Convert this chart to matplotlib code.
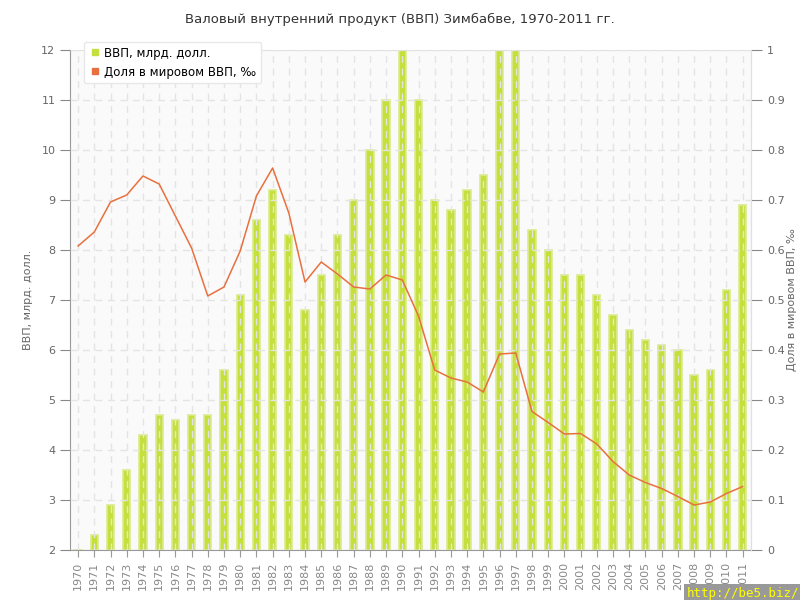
import matplotlib
matplotlib.use("Agg")
import matplotlib.pyplot as plt
from matplotlib.lines import Line2D
import numpy as np

years = [str(y) for y in range(1970, 2012)]
gdp = [1.9, 2.3, 2.9, 3.6, 4.3, 4.7, 4.6, 4.7, 4.7, 5.6,
       7.1, 8.6, 9.2, 8.3, 6.8, 7.5, 8.3, 9.0, 10.0, 11.0,
       12.4, 11.0, 9.0, 8.8, 9.2, 9.5, 12.4, 12.4, 8.4, 8.0,
       7.5, 7.5, 7.1, 6.7, 6.4, 6.2, 6.1, 6.0, 5.5, 5.6,
       7.2, 8.9]
share = [0.608, 0.636, 0.696, 0.710, 0.748, 0.732, 0.668, 0.604, 0.508, 0.526,
         0.598, 0.708, 0.764, 0.674, 0.536, 0.576, 0.552, 0.526, 0.522, 0.550,
         0.540, 0.468, 0.360, 0.344, 0.336, 0.316, 0.392, 0.394, 0.277, 0.255,
         0.232, 0.233, 0.212, 0.177, 0.150, 0.135, 0.123, 0.107, 0.090, 0.096,
         0.113, 0.127]

title = "Валовый внутренний продукт (ВВП) Зимбабве, 1970-2011 гг."
left_label = "ВВП, млрд. долл."
right_label = "Доля в мировом ВВП, ‰"
legend_labels = ["ВВП, млрд. долл.", "Доля в мировом ВВП, ‰"]

bar_color = "#c5df3c"
bar_edge = "#d9ec8c"
line_color = "#e8703f"
grid_color = "#e4e4e4"
text_color = "#666666"

plt.rcParams['font.family'] = ['DejaVu Sans']
fig = plt.figure(figsize=(8, 6), dpi=100)
ax = fig.add_axes([0.0875, 0.0833, 0.851, 0.8334])
ax.set_facecolor("#fafafa")
x = np.arange(len(years))
ax.bar(x, np.array(gdp) - 2, bottom=2, width=0.45, color=bar_color,
       edgecolor=bar_edge, linewidth=1.2, zorder=2)
ax.set_xlim(-0.5, len(years) - 0.5)
ax.set_ylim(2, 12)
ax.set_yticks(range(2, 13))
ax.set_xticks(x)
ax.set_xticklabels(years, rotation=90, fontsize=8, color="#888888")
ax.tick_params(axis='y', labelsize=8, colors="#888888", labelcolor=text_color, length=7)
ax.tick_params(axis='x', length=5, colors="#999999", labelcolor="#888888")
ax.grid(True, color=grid_color, linestyle=(0, (5, 4)), linewidth=1, zorder=3)
ax.set_axisbelow(False)
for s in ["top", "right"]:
    ax.spines[s].set_color("#e0e0e0")
ax.spines["left"].set_color("#999999")
ax.spines["bottom"].set_color("#999999")
ax.set_ylabel(left_label, fontsize=8, color=text_color, labelpad=6)

ax2 = ax.twinx()
ax2.plot(x, share, color=line_color, linewidth=1.1, zorder=4)
ax2.set_ylim(0, 1)
ax2.set_yticks(np.round(np.arange(0, 1.01, 0.1), 1))
ax2.set_yticklabels(["0", "0.1", "0.2", "0.3", "0.4", "0.5", "0.6", "0.7", "0.8", "0.9", "1"])
ax2.tick_params(axis='y', labelsize=8, colors="#888888", labelcolor=text_color, length=8)
for s in ["top", "left", "bottom"]:
    ax2.spines[s].set_visible(False)
ax2.spines["right"].set_color("#e0e0e0")
ax2.set_ylabel(right_label, fontsize=8, color=text_color, labelpad=2)

handles = [Line2D([], [], marker='s', linestyle='none', color=bar_color, markersize=5),
           Line2D([], [], marker='s', linestyle='none', color=line_color, markersize=5)]
leg = ax2.legend(handles, legend_labels, loc='upper left', bbox_to_anchor=(0.012, 1.028),
                 fontsize=8.5, frameon=True, fancybox=True, shadow=False,
                 handletextpad=0.3, borderpad=0.4, labelspacing=0.5, handlelength=1.0)
leg.get_frame().set_edgecolor("#e8e8e8")
leg.get_frame().set_facecolor("white")
leg.get_frame().set_alpha(1)
leg.set_zorder(10)

fig.suptitle(title, y=0.978, fontsize=9.5, color="#333333")
fig.text(0.999, 0.0, "http://be5.biz/", ha='right', va='bottom', color='#ffff00',
         fontsize=9, family='DejaVu Sans Mono',
         bbox=dict(facecolor='#999999', edgecolor='none', pad=2))

fig.savefig("out.png", dpi=100)
